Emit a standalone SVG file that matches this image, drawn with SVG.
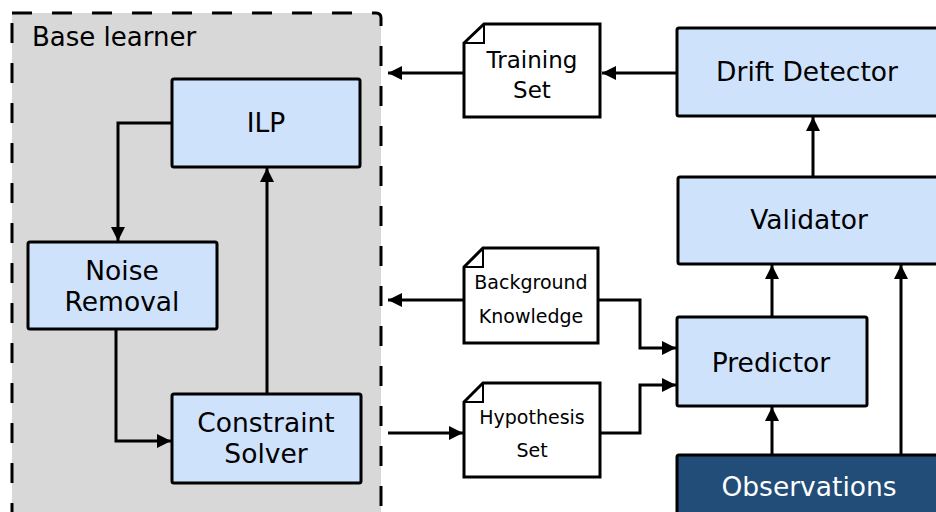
<svg xmlns="http://www.w3.org/2000/svg" width="936" height="512" viewBox="0 0 936 512">
<defs>
<marker id="ah" markerUnits="userSpaceOnUse" markerWidth="16" markerHeight="16" viewBox="0 0 16 16" refX="15" refY="8" orient="auto">
<path d="M1,1 L15,8 L1,15 Z" fill="#000"/>
</marker>
<style>
text{font-family:"DejaVu Sans","Liberation Sans",sans-serif;fill:#000;text-anchor:middle}
.box{fill:#cfe2fc;stroke:#000;stroke-width:3}
.dark{fill:#214d78;stroke:#000;stroke-width:3}
.doc{fill:#fff;stroke:#000;stroke-width:3;stroke-linejoin:miter}
.fold{fill:none;stroke:#000;stroke-width:2}
.lbl{font-size:26.5px}
.dl{font-size:23px}
.ds{font-size:19px}
.c{fill:none;stroke:#000;stroke-width:3;marker-end:url(#ah)}
</style>
</defs>
<g id="base-learner">
<path d="M12,13 H376 Q381,13 381,18 V520 H12 Z" fill="#d8d8d8" stroke="#000" stroke-width="3" stroke-dasharray="20 20"/>
<text x="32" y="46" style="text-anchor:start;font-size:26px">Base learner</text>
</g>
<g id="ilp">
<rect class="box" x="172" y="79" width="188" height="88" rx="2"/>
<text class="lbl" x="266" y="132">ILP</text>
</g>
<g id="noise-removal">
<rect class="box" x="28" y="242" width="189" height="87" rx="2"/>
<text class="lbl" x="122" y="280">Noise</text>
<text class="lbl" x="122" y="311">Removal</text>
</g>
<g id="constraint-solver">
<rect class="box" x="172" y="394" width="189" height="89" rx="2"/>
<text class="lbl" x="266" y="432">Constraint</text>
<text class="lbl" x="266" y="463">Solver</text>
</g>
<g id="training-set">
<path class="doc" d="M464,43 L484,24 H600 V117 H464 Z"/>
<path class="fold" d="M464,43 H484 V24"/>
<text class="dl" x="532" y="68">Training</text>
<text class="dl" x="532" y="98">Set</text>
</g>
<g id="background-knowledge">
<path class="doc" d="M464,267 L483,248 H598 V343 H464 Z"/>
<path class="fold" d="M464,267 H483 V248"/>
<text class="ds" x="531" y="289">Background</text>
<text class="ds" x="531" y="323">Knowledge</text>
</g>
<g id="hypothesis-set">
<path class="doc" d="M464,402 L483,383 H600 V477 H464 Z"/>
<path class="fold" d="M464,402 H483 V383"/>
<text class="ds" x="532" y="424">Hypothesis</text>
<text class="ds" x="532" y="457">Set</text>
</g>
<g id="drift-detector">
<rect class="box" x="677" y="28" width="270" height="88" rx="2"/>
<text class="lbl" x="807" y="81">Drift Detector</text>
</g>
<g id="validator">
<rect class="box" x="678" y="177" width="270" height="87" rx="2"/>
<text class="lbl" x="809" y="229">Validator</text>
</g>
<g id="predictor">
<rect class="box" x="677" y="317" width="190" height="89" rx="2"/>
<text class="lbl" x="771" y="372">Predictor</text>
</g>
<g id="observations">
<rect class="dark" x="677" y="455" width="270" height="70" rx="2"/>
<text class="lbl" x="809" y="496" style="fill:#fff">Observations</text>
</g>
<g id="connectors">
<path class="c" d="M676,73 H602"/>
<path class="c" d="M464,73 H388"/>
<path class="c" d="M464,300 H388"/>
<path class="c" d="M598,300 H640 V348 H676"/>
<path class="c" d="M388,433 H463"/>
<path class="c" d="M600,433 H640 V385 H676"/>
<path class="c" d="M172,123 H118 V241"/>
<path class="c" d="M116,329 V441 H171"/>
<path class="c" d="M267,394 V168"/>
<path class="c" d="M772,317 V265"/>
<path class="c" d="M772,455 V407"/>
<path class="c" d="M901,455 V265"/>
<path class="c" d="M813,177 V117"/>
</g>
</svg>
